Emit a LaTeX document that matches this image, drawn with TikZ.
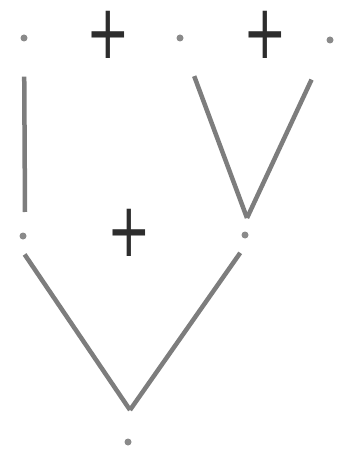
\documentclass[tikz,border=0pt]{standalone}
\usepackage{fontspec}
\usepackage{xcolor}
\newfontfamily\plusfont{DejaVu Sans}
\definecolor{mygray}{RGB}{125,125,125}
\definecolor{mydark}{RGB}{45,45,45}

\begin{document}
\begin{tikzpicture}[x=1pt,y=-1pt,
  pt/.style={circle,fill=mygray!90,inner sep=0pt,minimum size=7pt},
  plus/.style={text=mydark,inner sep=0pt,font=\plusfont\fontsize{52}{52}\selectfont},
  arm/.style={draw=mygray,line width=4.5pt}]
  \useasboundingbox (0,0) rectangle (338,454);

  % leaves and the signs between them
  \node[pt] (l1) at (24,38) {};
  \node[pt] (l2) at (180,38) {};
  \node[pt] (l3) at (330,40) {};
  \node[plus] (p1) at (108,35) {\scalebox{1}[1.45]{+}};
  \node[plus] (p2) at (265,35) {\scalebox{1}[1.45]{+}};

  % second level
  \node[pt,outer sep=15pt] (m1) at (23,236) {};
  \node[pt,outer sep=15pt] (m2) at (245,235) {};
  \node[plus] (p3) at (129,233) {\scalebox{1}[1.45]{+}};

  % root
  \node[pt] (r) at (128,442) {};

  \coordinate (v1) at (25,212);
  \coordinate (v2) at (247,218);
  \coordinate (v3) at (130,410);

  \draw[arm,shorten <=35pt] (l1) -- (v1);
  \draw[arm,shorten <=37pt] (l2) -- (v2);
  \draw[arm,shorten <=40pt] (l3) -- (v2);
  \draw[arm] (m1.-85) -- (v3);
  \draw[arm] (m2.-105) -- (v3);
\end{tikzpicture}
\end{document}
